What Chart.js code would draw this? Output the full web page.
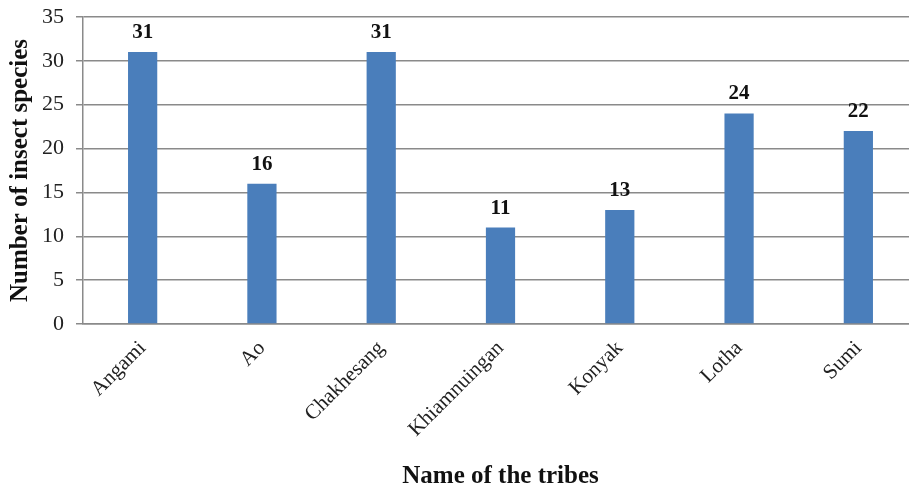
<!DOCTYPE html>
<html>
<head>
<meta charset="utf-8">
<script src="https://cdn.jsdelivr.net/npm/chart.js@4/dist/chart.umd.min.js"></script>
<style>
  html, body { margin: 0; padding: 0; background: #fff; overflow: hidden; }
  #wrap { width: 920px; height: 492px; }
</style>
</head>
<body>
<div id="wrap"><canvas id="chart" width="920" height="492"></canvas></div>
<script>
const tribes = ["Angami", "Ao", "Chakhesang", "Khiamnuingan", "Konyak", "Lotha", "Sumi"];
const species = [31, 16, 31, 11, 13, 24, 22];
const yTicks = [0, 5, 10, 15, 20, 25, 30, 35];

const serif = "'Liberation Serif', 'Times New Roman', serif";

// value labels above each bar
const barLabels = {
  id: "barLabels",
  afterDatasetsDraw(chart) {
    const ctx = chart.ctx;
    const meta = chart.getDatasetMeta(0);
    ctx.save();
    ctx.font = "bold 21px " + serif;
    ctx.fillStyle = "#111";
    ctx.textAlign = "center";
    ctx.textBaseline = "alphabetic";
    meta.data.forEach((bar, i) => {
      ctx.fillText(species[i], bar.x, bar.y - 14);
    });
    ctx.restore();
  }
};

new Chart(document.getElementById("chart"), {
  type: "bar",
  data: {
    labels: tribes,
    datasets: [{
      data: species,
      backgroundColor: "#4a7ebb",
      borderWidth: 0,
      categoryPercentage: 1,
      barPercentage: 0.245
    }]
  },
  options: {
    responsive: false,
    animation: false,
    layout: { padding: { left: 0, top: 17, right: 2, bottom: 0 } },
    plugins: { legend: { display: false }, tooltip: { enabled: false } },
    scales: {
      x: {
        grid: { display: false },
        border: { display: true, color: "#8a8a8a", width: 1.5 },
        ticks: {
          color: "#222",
          font: { family: serif, size: 21 },
          minRotation: 45,
          maxRotation: 45,
          padding: 4
        },
        title: {
          display: true,
          text: "Name of the tribes",
          color: "#111",
          font: { family: serif, size: 25, weight: "bold" },
          padding: { top: 0, bottom: 0 }
        },
        afterFit(scale) { scale.height = 168; }
      },
      y: {
        min: 0,
        max: 35,
        afterBuildTicks(scale) { scale.ticks = yTicks.map(v => ({ value: v })); },
        grid: { color: "#8a8a8a", lineWidth: 1.5, tickLength: 7 },
        border: { display: true, color: "#8a8a8a", width: 1.5 },
        ticks: {
          color: "#222",
          font: { family: serif, size: 22 },
          padding: 12
        },
        title: {
          display: true,
          text: "Number of insect species",
          color: "#111",
          font: { family: serif, size: 25, weight: "bold" },
          padding: { top: 6, bottom: 0 }
        },
        afterFit(scale) {
          scale.width = 83;
          scale.paddingTop = 0;
          scale.paddingBottom = 0;
        }
      }
    }
  },
  plugins: [barLabels]
});
</script>
</body>
</html>
